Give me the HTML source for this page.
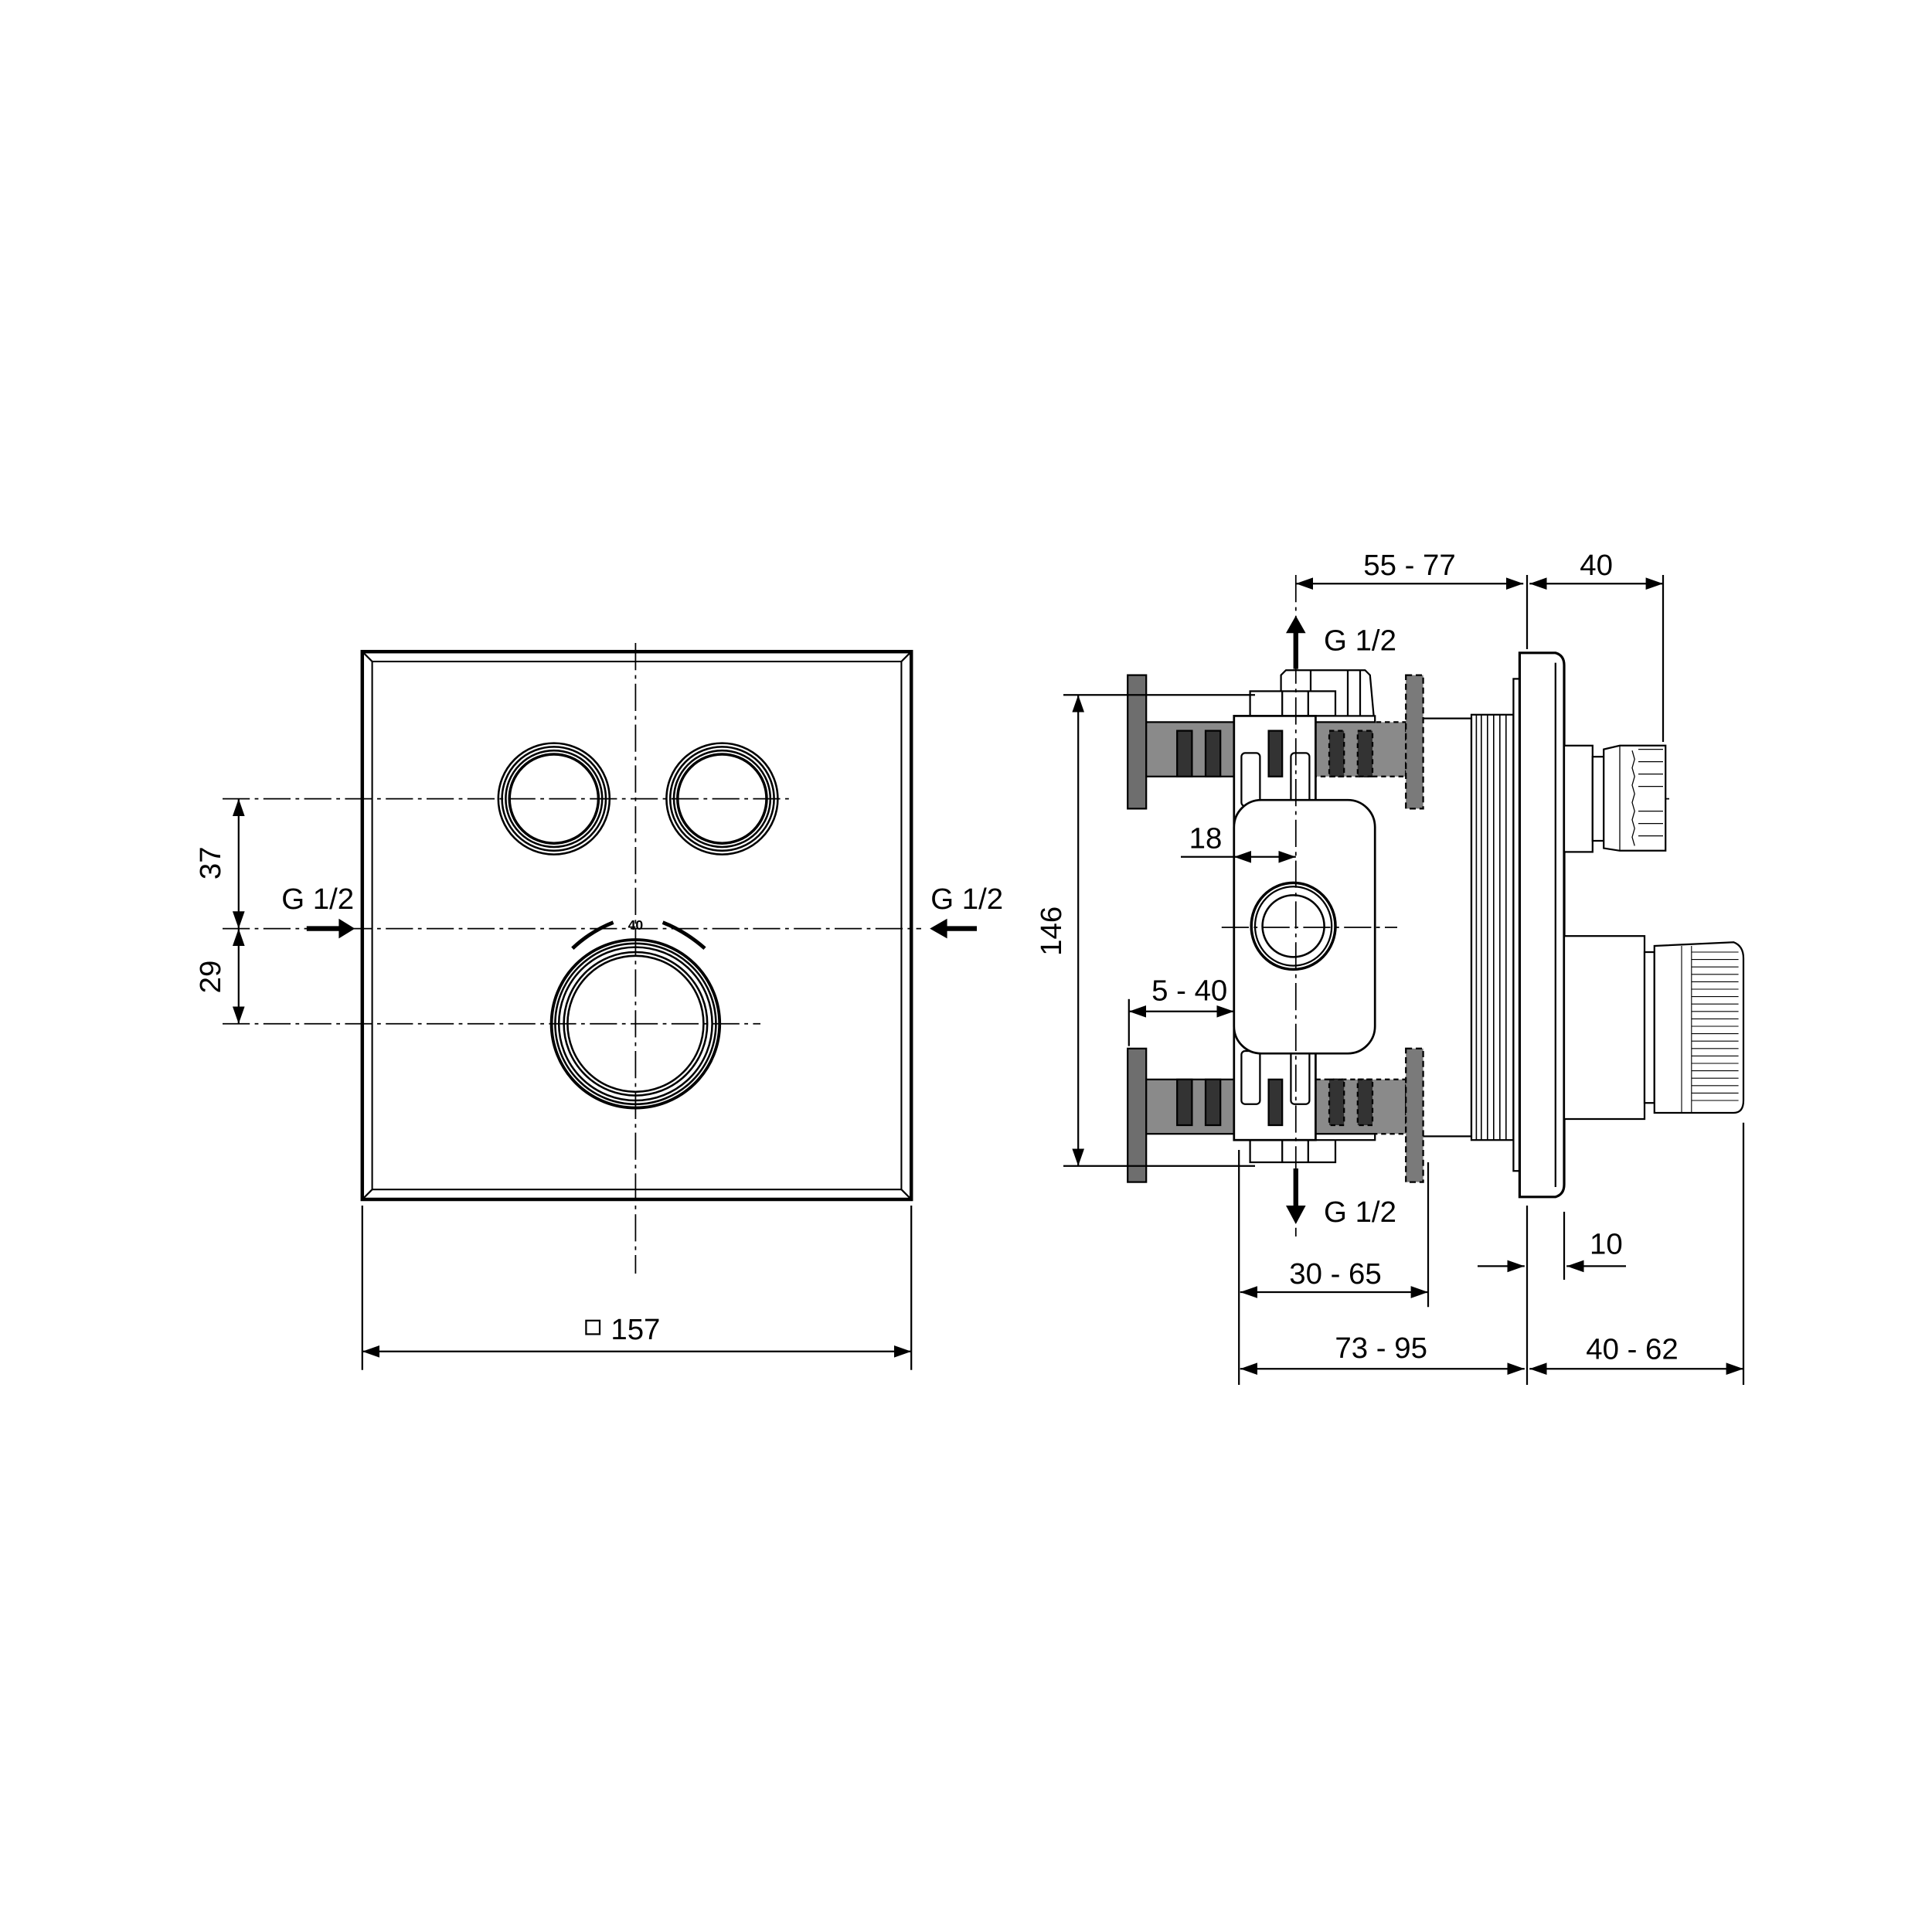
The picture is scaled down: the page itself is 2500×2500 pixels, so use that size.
<!DOCTYPE html>
<html><head><meta charset="utf-8"><style>html,body{margin:0;padding:0;background:#fff}svg{display:block}</style></head>
<body>
<svg width="2500" height="2500" viewBox="0 0 1562.5 1562.5" xmlns="http://www.w3.org/2000/svg" font-family="Liberation Sans, sans-serif">
<defs>
<marker id="a" viewBox="0 0 10 10" refX="10" refY="5" markerWidth="14" markerHeight="14" markerUnits="userSpaceOnUse" orient="auto-start-reverse"><path d="M0,1.5 L10,5 L0,8.5z" fill="#000"/></marker>
</defs>
<rect width="1562.5" height="1562.5" fill="#fff"/>
<g fill="none" stroke="#000" stroke-width="1.4">
<!-- LEFT VIEW -->
<rect x="293" y="527" width="444" height="443" stroke-width="2.8"/>
<rect x="301" y="535" width="428" height="427" stroke-width="1.3"/>
<path d="M293,527 L301,535 M737,527 L729,535 M293,970 L301,962 M737,970 L729,962"/>
<g stroke-dasharray="22,4,3,4" stroke-width="1.1">
<line x1="514" y1="520" x2="514" y2="1030"/>
<line x1="180" y1="646" x2="640" y2="646"/>
<line x1="180" y1="751" x2="745" y2="751"/>
<line x1="180" y1="828" x2="615" y2="828"/>
</g>
<g stroke-width="1.6">
<circle cx="448" cy="646" r="45"/><circle cx="448" cy="646" r="42"/><circle cx="448" cy="646" r="39"/><circle cx="448" cy="646" r="36" stroke-width="2.2"/>
<circle cx="584" cy="646" r="45"/><circle cx="584" cy="646" r="42"/><circle cx="584" cy="646" r="39"/><circle cx="584" cy="646" r="36" stroke-width="2.2"/>
<circle cx="514" cy="828" r="68" stroke-width="2.4"/><circle cx="514" cy="828" r="65"/><circle cx="514" cy="828" r="62"/><circle cx="514" cy="828" r="58"/><circle cx="514" cy="828" r="55"/>
</g>
<path d="M463,767 Q478,753 496,746" stroke-width="3"/>
<path d="M536,746 Q554,753 570,767" stroke-width="3"/>
<!-- dims left -->
<line x1="193" y1="646" x2="193" y2="751" marker-start="url(#a)" marker-end="url(#a)"/>
<line x1="193" y1="751" x2="193" y2="828" marker-start="url(#a)" marker-end="url(#a)"/>
<line x1="293" y1="975" x2="293" y2="1108"/><line x1="737" y1="975" x2="737" y2="1108"/>
<line x1="293" y1="1093" x2="737" y2="1093" marker-start="url(#a)" marker-end="url(#a)"/>
<rect x="474" y="1068" width="11" height="11"/>
<line x1="248" y1="751" x2="276" y2="751" stroke-width="4"/>
<path d="M274,743 L287,751 L274,759z" fill="#000" stroke="none"/>
<line x1="764" y1="751" x2="790" y2="751" stroke-width="4"/>
<path d="M766,743 L752,751 L766,759z" fill="#000" stroke="none"/>

<!-- RIGHT VIEW -->
<rect x="912" y="546" width="15" height="108" fill="#6e6e6e"/>
<rect x="912" y="848" width="15" height="108" fill="#6e6e6e"/>
<rect x="927" y="584" width="71" height="44" fill="#8a8a8a"/>
<rect x="927" y="873" width="71" height="44" fill="#8a8a8a"/>
<g fill="#333"><rect x="952" y="591" width="12" height="37"/><rect x="975" y="591" width="12" height="37"/>
<rect x="952" y="873" width="12" height="37"/><rect x="975" y="873" width="12" height="37"/></g>
<rect x="1064" y="584" width="73" height="44" fill="#8a8a8a" stroke-dasharray="4,3"/>
<rect x="1064" y="873" width="73" height="44" fill="#8a8a8a" stroke-dasharray="4,3"/>
<g fill="#333" stroke-dasharray="4,3"><rect x="1075" y="591" width="12" height="37"/><rect x="1098" y="591" width="12" height="37"/>
<rect x="1075" y="873" width="12" height="37"/><rect x="1098" y="873" width="12" height="37"/></g>
<rect x="1137" y="546" width="14" height="108" fill="#7a7a7a" stroke-dasharray="5,3"/>
<rect x="1137" y="848" width="14" height="108" fill="#7a7a7a" stroke-dasharray="5,3"/>
<!-- caps -->
<path d="M1036,579 L1036,546 L1040,542 L1104,542 L1108,546 L1111,579" fill="#fff"/>
<line x1="1060" y1="542" x2="1060" y2="559"/><line x1="1090" y1="542" x2="1090" y2="579"/><line x1="1100" y1="542" x2="1100" y2="579"/>
<rect x="1011" y="559" width="69" height="20" fill="#fff"/>
<rect x="1011" y="920" width="69" height="20" fill="#fff"/>
<line x1="1037" y1="920" x2="1037" y2="940"/><line x1="1058" y1="920" x2="1058" y2="940"/>
<line x1="1037" y1="559" x2="1037" y2="579"/><line x1="1058" y1="559" x2="1058" y2="579"/>
<!-- main cylinder -->
<rect x="1064" y="579" width="48" height="5" fill="#fff"/>
<rect x="1064" y="917" width="48" height="5" fill="#fff"/>
<path d="M1151,581 L1190,581 L1190,919 L1151,919"/>
<rect x="1190" y="578" width="34" height="344" fill="#fff"/>
<g stroke-width="1"><line x1="1194" y1="578" x2="1194" y2="922"/><line x1="1198" y1="578" x2="1198" y2="922"/><line x1="1203" y1="578" x2="1203" y2="922"/><line x1="1208" y1="578" x2="1208" y2="922"/><line x1="1213" y1="578" x2="1213" y2="922"/><line x1="1218" y1="578" x2="1218" y2="922"/></g>
<rect x="1224" y="549" width="5" height="398" fill="#fff"/>
<path d="M1229,528 L1258,528 Q1265,530 1265,538 L1265,958 Q1265,966 1258,968 L1229,968z" fill="#fff" stroke-width="2"/>
<line x1="1258" y1="536" x2="1258" y2="960"/>
<!-- bracket -->
<rect x="998" y="579" width="66" height="343" fill="#fff" stroke-width="1.7"/>
<rect x="1004" y="609" width="15" height="43" rx="3"/><rect x="1044" y="609" width="15" height="43" rx="3"/>
<rect x="1004" y="850" width="15" height="43" rx="3"/><rect x="1044" y="850" width="15" height="43" rx="3"/>
<rect x="1026" y="591" width="11" height="37" fill="#333"/><rect x="1026" y="873" width="11" height="37" fill="#333"/>
<rect x="998" y="647" width="114" height="205" rx="22" fill="#fff" stroke-width="1.7"/>
<ellipse cx="1046" cy="749" rx="34" ry="35" stroke-width="2.2"/>
<ellipse cx="1046" cy="749" rx="31" ry="32"/>
<circle cx="1046" cy="749" r="25" stroke-width="1.6"/>
<g stroke-dasharray="22,4,3,4" stroke-width="1.1">
<line x1="1048" y1="465" x2="1048" y2="1000"/>
<line x1="988" y1="750" x2="1130" y2="750"/>
<line x1="1265" y1="646" x2="1350" y2="646"/>
<line x1="1265" y1="828" x2="1385" y2="828"/>
</g>
<!-- upper spindle -->
<rect x="1265" y="603" width="23" height="86" fill="#fff"/>
<rect x="1288" y="612" width="9" height="68" fill="#fff"/>
<path d="M1297,606 L1310,603 L1347,603 L1347,688 L1310,688 L1297,686z" fill="#fff"/>
<g stroke-width="0.8"><line x1="1310" y1="603" x2="1310" y2="688"/>
<path d="M1320,607 L1322,614 L1320,621 L1322,628 L1320,635 L1322,642 L1320,649 L1322,656 L1320,663 L1322,670 L1320,677 L1322,684"/>
<line x1="1325" y1="606" x2="1345" y2="606"/><line x1="1325" y1="616" x2="1345" y2="616"/><line x1="1325" y1="626" x2="1345" y2="626"/><line x1="1325" y1="636" x2="1345" y2="636"/><line x1="1325" y1="656" x2="1345" y2="656"/><line x1="1325" y1="666" x2="1345" y2="666"/><line x1="1325" y1="676" x2="1345" y2="676"/></g>
<!-- lower spindle -->
<rect x="1265" y="757" width="65" height="148" fill="#fff"/>
<rect x="1330" y="770" width="8" height="122" fill="#fff"/>
<path d="M1338,765 L1402,762 Q1410,765 1410,775 L1410,890 Q1410,900 1402,900 L1338,900z" fill="#fff"/>
<g stroke-width="0.7">
<line x1="1360" y1="765" x2="1360" y2="900"/><line x1="1368" y1="765" x2="1368" y2="900"/>
<path d="M1368,770 L1406,770 M1368,776 L1406,776 M1368,782 L1406,782 M1368,788 L1406,788 M1368,794 L1406,794 M1368,800 L1406,800 M1368,806 L1406,806 M1368,812 L1406,812 M1368,818 L1406,818 M1368,824 L1406,824 M1368,830 L1406,830 M1368,836 L1406,836 M1368,842 L1406,842 M1368,848 L1406,848 M1368,854 L1406,854 M1368,860 L1406,860 M1368,866 L1406,866 M1368,872 L1406,872 M1368,878 L1406,878 M1368,884 L1406,884 M1368,890 L1406,890"/></g>
<!-- dims right -->
<line x1="1048" y1="472" x2="1232" y2="472" marker-start="url(#a)" marker-end="url(#a)"/>
<line x1="1235" y1="465" x2="1235" y2="525"/>
<line x1="1237" y1="472" x2="1345" y2="472" marker-start="url(#a)" marker-end="url(#a)"/>
<line x1="1345" y1="465" x2="1345" y2="600"/>
<line x1="860" y1="562" x2="1015" y2="562"/>
<line x1="860" y1="943" x2="1015" y2="943"/>
<line x1="872" y1="562" x2="872" y2="943" marker-start="url(#a)" marker-end="url(#a)"/>
<line x1="955" y1="693" x2="998" y2="693"/>
<line x1="998" y1="693" x2="1048" y2="693" marker-start="url(#a)" marker-end="url(#a)"/>
<line x1="913" y1="808" x2="913" y2="846"/>
<line x1="913" y1="818" x2="998" y2="818" marker-start="url(#a)" marker-end="url(#a)"/>
<line x1="1048" y1="541" x2="1048" y2="510" stroke-width="4"/>
<path d="M1040,512 L1048,498 L1056,512z" fill="#000" stroke="none"/>
<line x1="1048" y1="945" x2="1048" y2="977" stroke-width="4"/>
<path d="M1040,975 L1048,990 L1056,975z" fill="#000" stroke="none"/>
<line x1="1155" y1="940" x2="1155" y2="1057"/>
<line x1="1003" y1="1045" x2="1155" y2="1045" marker-start="url(#a)" marker-end="url(#a)"/>
<line x1="1002" y1="930" x2="1002" y2="1120"/>
<line x1="1235" y1="975" x2="1235" y2="1120"/>
<line x1="1003" y1="1107" x2="1233" y2="1107" marker-start="url(#a)" marker-end="url(#a)"/>
<line x1="1237" y1="1107" x2="1410" y2="1107" marker-start="url(#a)" marker-end="url(#a)"/>
<line x1="1410" y1="908" x2="1410" y2="1120"/>
<line x1="1265" y1="980" x2="1265" y2="1035"/>
<line x1="1195" y1="1024" x2="1233" y2="1024" marker-end="url(#a)"/>
<line x1="1315" y1="1024" x2="1267" y2="1024" marker-end="url(#a)"/>
</g>
<g font-size="24" fill="#000" text-anchor="middle">
<text x="514" y="1083">157</text>
<text x="257" y="735">G 1/2</text>
<text x="782" y="735">G 1/2</text>
<text transform="translate(178,698) rotate(-90)">37</text>
<text transform="translate(178,790) rotate(-90)">29</text>
<text x="514" y="752" font-size="11" font-weight="bold">40</text>
<text x="1140" y="465">55 - 77</text>
<text x="1291" y="465">40</text>
<text x="1100" y="526">G 1/2</text>
<text transform="translate(858,753) rotate(-90)">146</text>
<text x="975" y="686">18</text>
<text x="962" y="809">5 - 40</text>
<text x="1100" y="988">G 1/2</text>
<text x="1299" y="1014">10</text>
<text x="1080" y="1038">30 - 65</text>
<text x="1117" y="1098">73 - 95</text>
<text x="1320" y="1099">40 - 62</text>
</g>
</svg>
</body></html>
